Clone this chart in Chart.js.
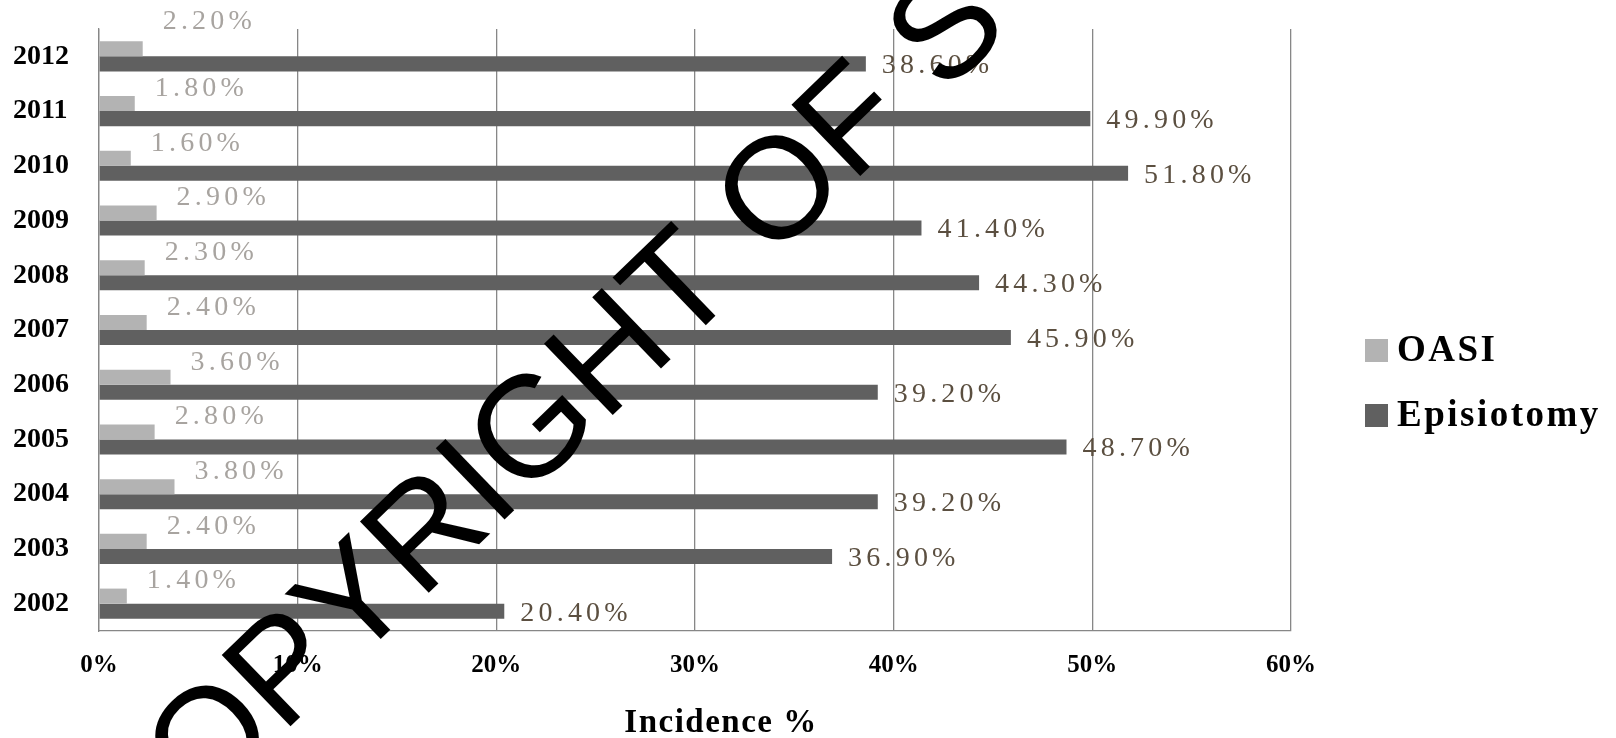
<!DOCTYPE html>
<html>
<head>
<meta charset="utf-8">
<script src="https://cdn.jsdelivr.net/npm/chart.js@4.4.1/dist/chart.umd.min.js"></script>
<style>
  html, body { margin: 0; padding: 0; background: #fff; }
  #wrap { width: 1616px; height: 738px; }
</style>
</head>
<body>
<div id="wrap"><canvas id="myChart" width="1616" height="738"></canvas></div>
<script>
// values, top row first
var years = ['2012', '2011', '2010', '2009', '2008', '2007', '2006', '2005', '2004', '2003', '2002'];
var oasi = [2.2, 1.8, 1.6, 2.9, 2.3, 2.4, 3.6, 2.8, 3.8, 2.4, 1.4];
var episiotomy = [38.6, 49.9, 51.8, 41.4, 44.3, 45.9, 39.2, 48.7, 39.2, 36.9, 20.4];
var xTicks = [0, 10, 20, 30, 40, 50, 60];
var seriesNames = ['OASI', 'Episiotomy'];
var axisTitle = 'Incidence %';
var watermark = 'COPYRIGHT OF S';

var serif = '"Liberation Serif", "Times New Roman", serif';
var barColors = ['#b3b3b3', '#606060'];
var labelColors = ['#a8a4a0', '#5b4f40'];

// bar values, legend, axis title and the watermark drawn on top
var extras = {
    id: 'extras',
    afterDatasetsDraw: function (chart) {
        var ctx = chart.ctx;
        ctx.save();
        ctx.font = '28px ' + serif;
        ctx.letterSpacing = '4.2px';
        ctx.textBaseline = 'middle';
        ctx.textAlign = 'left';
        chart.data.datasets.forEach(function (ds, di) {
            var meta = chart.getDatasetMeta(di);
            meta.data.forEach(function (bar, i) {
                var txt = ds.data[i].toFixed(2) + '%';
                ctx.fillStyle = labelColors[di];
                if (di === 0) {
                    var up = (i === 0) ? 27 : 15;
                    ctx.fillText(txt, bar.x + 20, bar.y - up);
                } else {
                    ctx.fillText(txt, bar.x + 16, bar.y + 2);
                }
            });
        });
        ctx.restore();
    },
    afterDraw: function (chart) {
        var ctx = chart.ctx;
        var area = chart.chartArea;
        ctx.save();

        // axis title
        ctx.font = 'bold 33px ' + serif;
        ctx.letterSpacing = '1.5px';
        ctx.fillStyle = '#000';
        ctx.textAlign = 'center';
        ctx.textBaseline = 'middle';
        ctx.fillText(axisTitle, (area.left + area.right) / 2 + 26, 723);

        // legend
        ctx.font = 'bold 37px ' + serif;
        ctx.letterSpacing = '2.5px';
        ctx.textAlign = 'left';
        var rows = [350, 415];
        seriesNames.forEach(function (name, k) {
            ctx.fillStyle = barColors[k];
            ctx.fillRect(1365, rows[k] - 11, 23, 23);
            ctx.fillStyle = '#000';
            ctx.fillText(name, 1397, rows[k] + 1);
        });

        // watermark
        ctx.letterSpacing = '0px';
        ctx.font = '144px "Liberation Sans", Arial, sans-serif';
        ctx.fillStyle = '#000';
        ctx.textBaseline = 'middle';
        ctx.translate(99, 856);
        ctx.rotate(-44 * Math.PI / 180);
        ctx.fillText(watermark, 0, 0);
        ctx.restore();
    }
};

var ctx = document.getElementById('myChart').getContext('2d');
window.myChart = new Chart(ctx, {
    type: 'bar',
    data: {
        labels: years,
        datasets: [{
            label: seriesNames[0],
            data: oasi,
            backgroundColor: barColors[0],
            borderWidth: 0
        }, {
            label: seriesNames[1],
            data: episiotomy,
            backgroundColor: barColors[1],
            borderWidth: 0
        }]
    },
    options: {
        indexAxis: 'y',
        responsive: false,
        animation: false,
        events: [],
        layout: {
            padding: { left: 13, right: 325, top: 29, bottom: 0 }
        },
        datasets: {
            bar: { categoryPercentage: 0.55, barPercentage: 1.0 }
        },
        plugins: {
            legend: { display: false },
            tooltip: { enabled: false }
        },
        scales: {
            x: {
                min: xTicks[0],
                max: xTicks[xTicks.length - 1],
                afterBuildTicks: function (scale) {
                    scale.ticks = xTicks.map(function (v) { return { value: v }; });
                },
                afterFit: function (scale) { scale.height = 107; },
                grid: {
                    color: '#878787',
                    lineWidth: 1.3,
                    drawTicks: false
                },
                border: { color: '#878787', width: 1.3 },
                ticks: {
                    padding: 20,
                    color: '#000',
                    font: { family: serif, size: 25, weight: 'bold' },
                    callback: function (v) { return v + '%'; }
                }
            },
            y: {
                afterFit: function (scale) { scale.width = 86; },
                grid: { display: false, drawTicks: false },
                border: { color: '#878787', width: 1.3 },
                ticks: {
                    crossAlign: 'far',
                    color: '#000',
                    font: { family: serif, size: 28, weight: 'bold' }
                }
            }
        }
    },
    plugins: [extras]
});
</script>
</body>
</html>
